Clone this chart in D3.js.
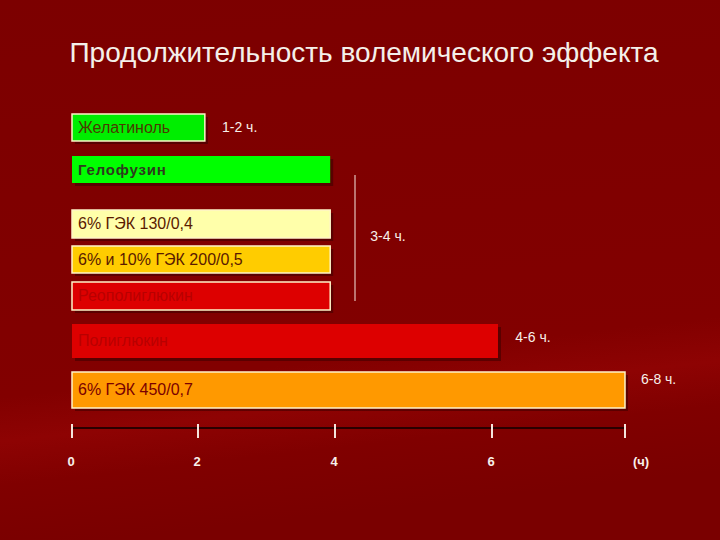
<!DOCTYPE html>
<html>
<head>
<meta charset="utf-8">
<script src="https://cdn.jsdelivr.net/npm/d3@7"></script>
<style>
  body { margin: 0; background: #7d0000; }
  svg { display: block; font-family: "Liberation Sans", Arial, sans-serif; }
</style>
</head>
<body>
<div id="chart"></div>
<script>
const width = 720;
const height = 540;

// data
const names = ["Желатиноль", "Гелофузин", "6% ГЭК 130/0,4", "6% и 10% ГЭК 200/0,5",
  "Реополиглюкин", "Полиглюкин", "6% ГЭК 450/0,7"];
const hours = [2.1, 3.93, 3.93, 3.93, 3.93, 6.09, 8];
const tickValues = [0, 2, 4, 6, 8];
const tickLabels = ["0", "2", "4", "6", "(ч)"];
const rangeLabels = ["1-2 ч.", "3-4 ч.", "4-6 ч.", "6-8 ч.", ];
const rangeAt = [2.35, 4.45, 6.35, 8.24];

const barFill = ["#00ee00", "#00ff00", "#ffffaa", "#ffcc00", "#dd0000", "#dd0000", "#ff9900"];
const textFill = ["#4b3a00", "#2e3a1e", "#5a1a00", "#5a1a00", "#b80000", "#b80000", "#7a0000"];
const barTop = [114, 156, 210, 246, 282, 324, 372];
const barH = [27, 27, 28, 27, 28, 34, 36];
const rangeY = [132, 241, 342, 384];

const svg = d3.select("#chart").append("svg")
  .attr("width", width)
  .attr("height", height)

const defs = svg.append("defs")
const bg = defs.append("linearGradient")
  .attr("id", "bg")
  .attr("x1", 0).attr("y1", 0).attr("x2", 0.15).attr("y2", 1)
bg.append("stop").attr("offset", "0%").attr("stop-color", "#7c0000")
bg.append("stop").attr("offset", "72%").attr("stop-color", "#820000")
bg.append("stop").attr("offset", "80%").attr("stop-color", "#8e0303")
bg.append("stop").attr("offset", "88%").attr("stop-color", "#800000")
bg.append("stop").attr("offset", "100%").attr("stop-color", "#7a0000")

svg.append("rect")
  .attr("width", width)
  .attr("height", height)
  .attr("fill", "url(#bg)")

svg.append("text")
  .attr("x", 364)
  .attr("y", 62)
  .attr("text-anchor", "middle")
  .style("font-size", "28px")
  .style("fill", "#f4f0ea")
  .text("Продолжительность волемического эффекта")

// axis is hand drawn in the original, so spacing is not even
const x = d3.scaleLinear()
  .domain(tickValues)
  .range([72, 198, 335, 492, 625])

const bars = svg.selectAll(".bar")
  .data(names)
  .enter().append("g")
  .attr("class", "bar")

// shadow
bars.append("rect")
  .attr("x", x(0) + 3)
  .attr("y", (d, i) => barTop[i] + 3)
  .attr("width", (d, i) => x(hours[i]) - x(0))
  .attr("height", (d, i) => barH[i])
  .attr("fill", "#3a0000")
  .attr("opacity", 0.55)

bars.append("rect")
  .attr("x", x(0))
  .attr("y", (d, i) => barTop[i])
  .attr("width", (d, i) => x(hours[i]) - x(0))
  .attr("height", (d, i) => barH[i])
  .attr("fill", (d, i) => barFill[i])
  .attr("stroke", (d, i) => i === 1 || i === 5 ? "none" : "#fff4c8")
  .attr("stroke-width", 1.5)

bars.append("text")
  .attr("x", x(0) + 6)
  .attr("y", (d, i) => barTop[i] + barH[i] / 2 + 5)
  .style("font-size", (d, i) => i === 1 ? "15px" : "16px")
  .style("font-weight", (d, i) => i === 1 ? "bold" : "normal")
  .style("letter-spacing", (d, i) => i === 1 ? "0.8px" : "0px")
  .style("fill", (d, i) => textFill[i])
  .text(d => d)

// bracket for the 3-4 h group
svg.append("line")
  .attr("x1", 355).attr("x2", 355)
  .attr("y1", 175).attr("y2", 301)
  .attr("stroke", "#f6e8e0")
  .attr("stroke-width", 1)

svg.selectAll(".range")
  .data(rangeLabels)
  .enter().append("text")
  .attr("class", "range")
  .attr("x", (d, i) => x(rangeAt[i]))
  .attr("y", (d, i) => rangeY[i])
  .style("font-size", "14px")
  .style("fill", "#f8f0ea")
  .text(d => d)

// axis
const axisY = 428;
svg.append("line")
  .attr("x1", x(0)).attr("x2", x(8))
  .attr("y1", axisY).attr("y2", axisY)
  .attr("stroke", "#2a0000")
  .attr("stroke-width", 2)

svg.selectAll(".tick")
  .data(tickValues)
  .enter().append("line")
  .attr("class", "tick")
  .attr("x1", d => x(d)).attr("x2", d => x(d))
  .attr("y1", axisY - 4).attr("y2", axisY + 10)
  .attr("stroke", "#f4e4dc")
  .attr("stroke-width", 2)

svg.selectAll(".tickLabel")
  .data(tickValues)
  .enter().append("text")
  .attr("class", "tickLabel")
  .attr("x", d => x(d) + (d === 8 ? 16 : -1))
  .attr("y", 466)
  .attr("text-anchor", "middle")
  .style("font-size", "13px")
  .style("font-weight", "bold")
  .style("fill", "#f8f0ea")
  .text((d, i) => tickLabels[i])
</script>
</body>
</html>
